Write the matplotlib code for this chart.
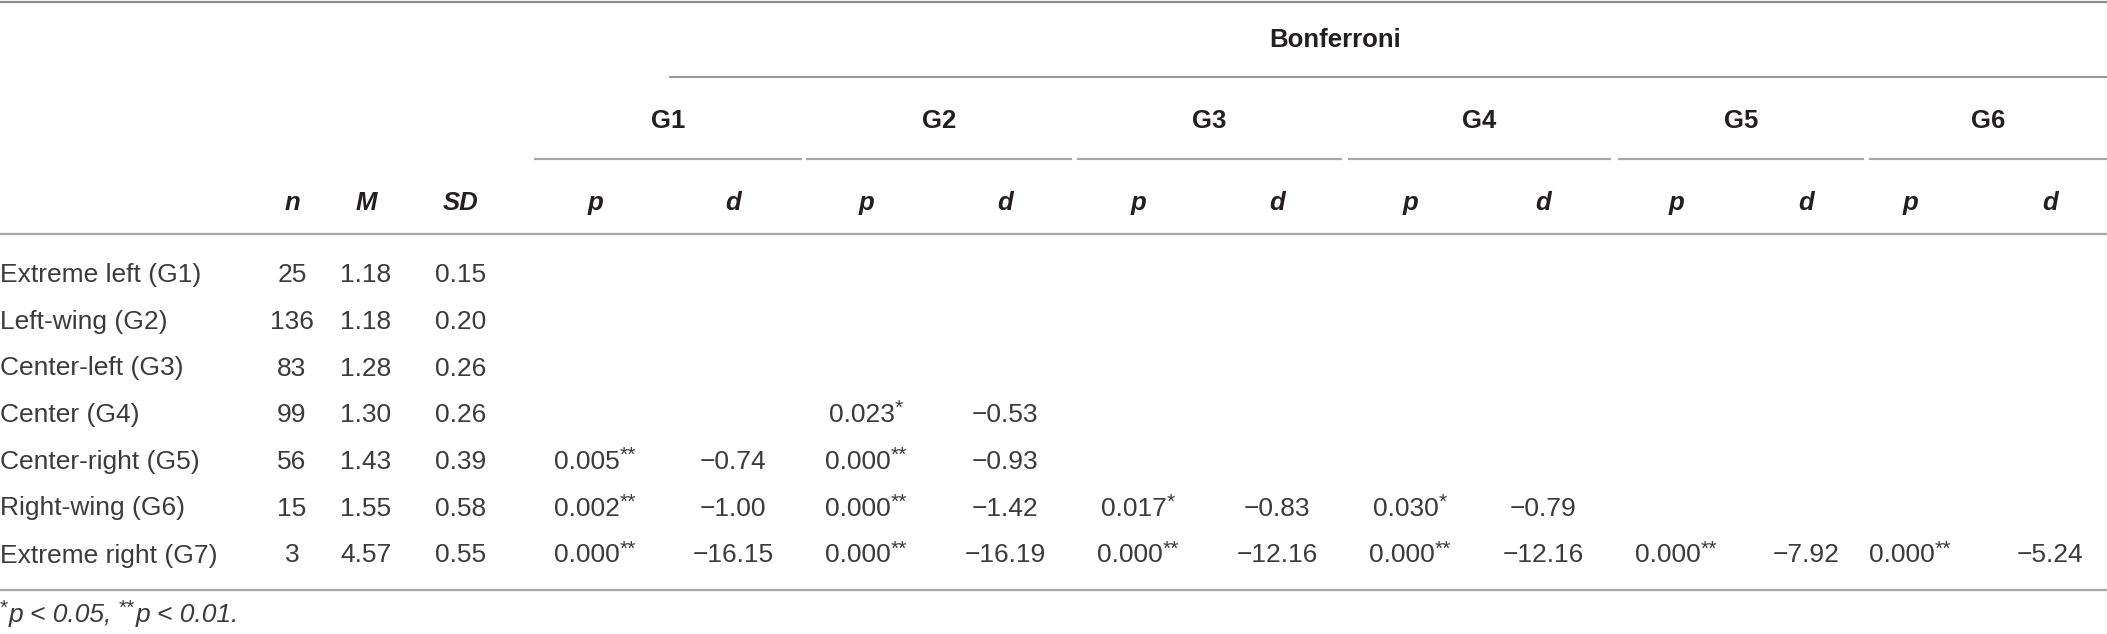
import matplotlib
matplotlib.use("Agg")
import matplotlib.pyplot as plt

# ---- table data ----
groups = ["Extreme left (G1)", "Left-wing (G2)", "Center-left (G3)", "Center (G4)",
          "Center-right (G5)", "Right-wing (G6)", "Extreme right (G7)"]
n_vals = [25, 136, 83, 99, 56, 15, 3]
m_vals = [1.18, 1.18, 1.28, 1.30, 1.43, 1.55, 4.57]
sd_vals = [0.15, 0.20, 0.26, 0.26, 0.39, 0.58, 0.55]
comp_labels = ["G1", "G2", "G3", "G4", "G5", "G6"]

# Bonferroni comparisons (row group, compared group)
comp_row = [3, 4, 4, 5, 5, 5, 5, 6, 6, 6, 6, 6, 6]
comp_col = [1, 0, 1, 0, 1, 2, 3, 0, 1, 2, 3, 4, 5]
comp_p = ["0.023", "0.005", "0.000", "0.002", "0.000", "0.017", "0.030",
          "0.000", "0.000", "0.000", "0.000", "0.000", "0.000"]
comp_sig = ["*", "**", "**", "**", "**", "*", "*",
            "**", "**", "**", "**", "**", "**"]
comp_d = [-0.53, -0.74, -0.93, -1.00, -1.42, -0.83, -0.79,
          -16.15, -16.19, -12.16, -12.16, -7.92, -5.24]

footnote = [("*", True), ("p < 0.05, ", False), ("**", True), ("p < 0.01.", False)]

# ---- layout (pixels, baselines) ----
W, H = 2107, 634
x_n, x_m, x_sd = 292, 366, 461
x_p = [595, 866, 1138, 1410, 1676, 1910]
x_d = [733, 1005, 1277, 1543, 1806, 2050]
grp_lines = [(535, 801), (807, 1071), (1078, 1341), (1349, 1610), (1619, 1863), (1870, 2107)]
row_base = [282, 329, 375.5, 422, 469, 515.5, 562.5]

TXT = "#231f20"
BODY_C = "#3c3a3b"
LINE = "#a6a6a6"
FS = 19
FS_H = 18.5

fig = plt.figure(figsize=(W / 100, H / 100), dpi=100)
ax = fig.add_axes([0, 0, 1, 1])
ax.set_xlim(0, W)
ax.set_ylim(H, 0)
ax.axis("off")

# rules
ax.plot([0, W], [1.5, 1.5], color="#8c8c8c", lw=1.6)
ax.plot([670, W], [77, 77], color="#8c8c8c", lw=1.3)
for a, b in grp_lines:
    ax.plot([a, b], [159, 159], color=LINE, lw=1.6)
ax.plot([0, W], [234, 234], color=LINE, lw=1.6)
ax.plot([0, W], [590, 590], color=LINE, lw=1.6)

head = dict(fontsize=FS_H, fontweight="bold", family="Liberation Sans", color=TXT,
            va="baseline")

# headers
ax.text(1335, 47, "Bonferroni", ha="center", **head)
for lab, (a, b) in zip(comp_labels, grp_lines):
    ax.text((a + b) / 2, 128, lab, ha="center", **head)
hdr = [(x_n, "n"), (x_m, "M"), (x_sd, "SD")]
for xp, xd in zip(x_p, x_d):
    hdr += [(xp, "p"), (xd, "d")]
for x, lab in hdr:
    ax.text(x, 210, lab, ha="center", fontstyle="italic", **head)

body = dict(fontsize=FS, family="Liberation Sans", color=BODY_C, va="baseline")
sup = {**body, "fontsize": FS * 0.8}

for i, g in enumerate(groups):
    y = row_base[i]
    ax.text(0, y, g, ha="left", **body)
    ax.text(x_n, y, str(n_vals[i]), ha="center", **body)
    ax.text(x_m, y, f"{m_vals[i]:.2f}", ha="center", **body)
    ax.text(x_sd, y, f"{sd_vals[i]:.2f}", ha="center", **body)

fig.canvas.draw()
rend = fig.canvas.get_renderer()


def width(t):
    return t.get_window_extent(rend).width


for r, c, p, s, d in zip(comp_row, comp_col, comp_p, comp_sig, comp_d):
    y = row_base[r]
    t1 = ax.text(0, y, p, ha="left", **body)
    t2 = ax.text(0, y - 8, s, ha="left", **sup)
    w1, w2 = width(t1), width(t2)
    left = x_p[c] - (w1 + w2) / 2
    t1.set_x(left)
    t2.set_x(left + w1)
    ax.text(x_d[c], y, f"{d:.2f}".replace("-", "\u2212"), ha="center", **body)

# footnote
x = 0
for s, is_sup in footnote:
    if is_sup:
        t = ax.text(x, 614, s, ha="left", **sup)
    else:
        t = ax.text(x, 622, s, ha="left", fontstyle="italic", **body)
    x += width(t)

fig.savefig("out.png", dpi=100)
